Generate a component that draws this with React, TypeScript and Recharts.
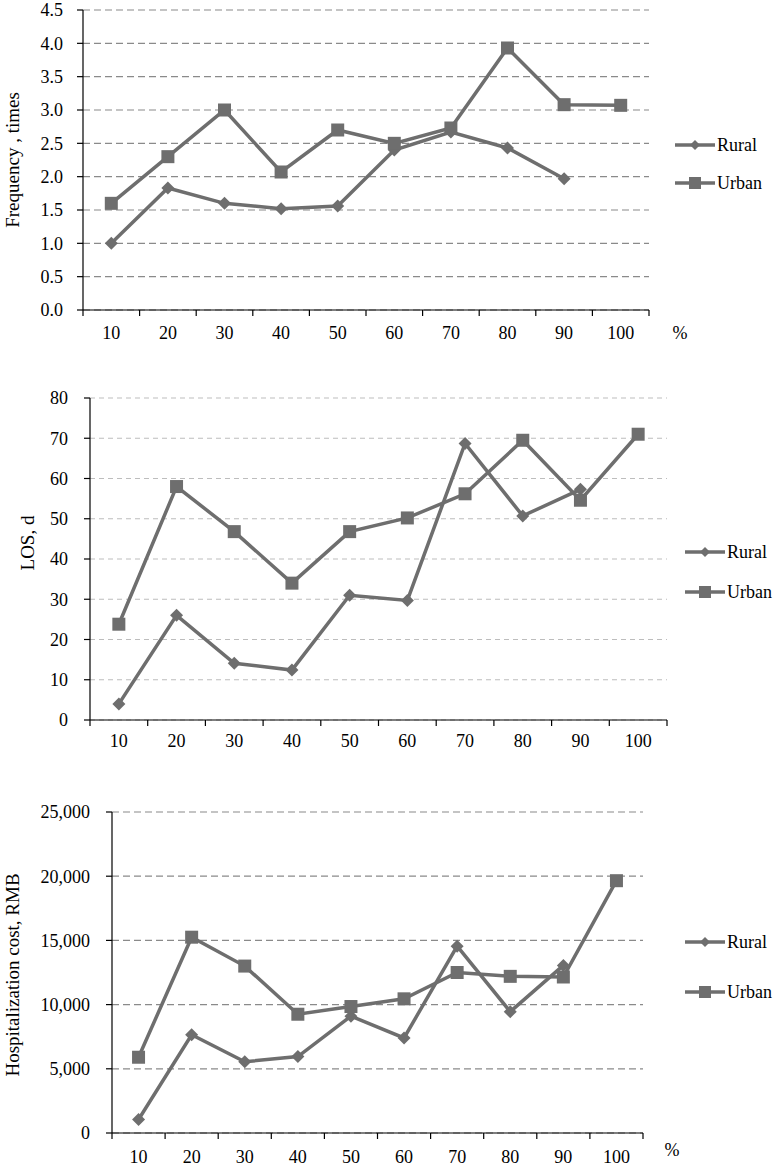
import { LineChart, Line, XAxis, YAxis, CartesianGrid, Legend } from 'recharts';

// income deciles on the x axis
const deciles = ['10', '20', '30', '40', '50', '60', '70', '80', '90', '100'];

// frequency of hospitalization, times
const freqRural = [1.0, 1.83, 1.6, 1.52, 1.56, 2.4, 2.67, 2.43, 1.97, null];
const freqUrban = [1.6, 2.3, 3.0, 2.07, 2.7, 2.5, 2.73, 3.93, 3.08, 3.07];
const freqTicks = [0, 0.5, 1, 1.5, 2, 2.5, 3, 3.5, 4, 4.5];

// length of stay, days
const losRural = [4, 26, 14.1, 12.4, 31, 29.7, 68.7, 50.7, 57.3, null];
const losUrban = [23.8, 58, 46.8, 34, 46.8, 50.2, 56.2, 69.5, 54.6, 71];
const losTicks = [0, 10, 20, 30, 40, 50, 60, 70, 80];

// hospitalization cost, RMB
const costRural = [1050, 7650, 5550, 5950, 9100, 7400, 14550, 9450, 13050, null];
const costUrban = [5900, 15250, 13000, 9250, 9850, 10450, 12500, 12200, 12150, 19650];
const costTicks = [0, 5000, 10000, 15000, 20000, 25000];

const seriesNames = ['Rural', 'Urban'];

const GRAY = '#6e6e6e';
const FONT = 'Liberation Serif, DejaVu Serif, serif';
const W = 782;

function buildRows(rural, urban) {
  return deciles.map((d, i) => ({ decile: d, Rural: rural[i], Urban: urban[i] }));
}

function makeDot(shape, r) {
  return (p) => {
    const { cx, cy, index } = p;
    if (cx == null || cy == null || Number.isNaN(cy)) return <g key={`e-${index}`} />;
    if (shape === 'diamond') {
      return (
        <path
          key={`d-${index}`}
          d={`M${cx},${cy - r}L${cx + r},${cy}L${cx},${cy + r}L${cx - r},${cy}Z`}
          fill={GRAY}
        />
      );
    }
    return <rect key={`s-${index}`} x={cx - r} y={cy - r} width={r * 2} height={r * 2} fill={GRAY} />;
  };
}

function LegendBox({ gap }) {
  return (
    <div style={{ fontFamily: FONT, fontSize: 18, color: '#000' }}>
      {seriesNames.map((s) => (
        <div key={s} style={{ display: 'flex', alignItems: 'center', height: gap }}>
          <svg width={42} height={16}>
            <line x1={1} y1={8} x2={41} y2={8} stroke={GRAY} strokeWidth={3.5} />
            {s === 'Rural' ? (
              <path d="M21,3L26,8L21,13L16,8Z" fill={GRAY} />
            ) : (
              <rect x={15} y={2} width={12} height={12} fill={GRAY} />
            )}
          </svg>
          <span style={{ marginLeft: 1 }}>{s}</span>
        </div>
      ))}
    </div>
  );
}

function Panel({ cfg }) {
  const plotW = W - cfg.left - cfg.right;
  const band = plotW / deciles.length;
  const data = buildRows(cfg.rural, cfg.urban);

  const renderTick = (p) => {
    const { x, y, payload, index } = p;
    const last = index === deciles.length - 1;
    return (
      <g key={`t-${index}`}>
        <line x1={x - band / 2} y1={y} x2={x - band / 2} y2={y + 6} stroke="#000" strokeWidth={1.2} />
        {last && <line x1={x + band / 2} y1={y} x2={x + band / 2} y2={y + 6} stroke="#000" strokeWidth={1.2} />}
        <text x={x} y={y + cfg.labelDy} textAnchor="middle" dominantBaseline="central" style={{ fontFamily: FONT }} fontSize={18} fill="#000">
          {payload.value}
        </text>
      </g>
    );
  };

  return (
    <div style={{ position: 'absolute', left: 0, top: cfg.top }}>
      <LineChart
        width={W}
        height={cfg.height}
        data={data}
        margin={{ top: cfg.plotTop, right: cfg.right, left: 0, bottom: 0 }}
        style={{ fontFamily: FONT }}
      >
        <CartesianGrid vertical={false} stroke={cfg.gridColor} strokeDasharray={cfg.dash} strokeWidth={1.2} />
        <XAxis
          dataKey="decile"
          height={cfg.xHeight}
          padding={{ left: band / 2, right: band / 2 }}
          axisLine={{ stroke: '#000', strokeWidth: 1.2 }}
          tickLine={false}
          tickSize={0}
          tickMargin={0}
          interval={0}
          tick={renderTick}
          label={{
            content: () =>
              cfg.percent ? (
                <text x={cfg.percent[0]} y={cfg.percent[1]} textAnchor="middle" dominantBaseline="central" style={{ fontFamily: FONT }} fontSize={18} fill="#000">
                  %
                </text>
              ) : null,
          }}
        />
        <YAxis
          width={cfg.left}
          domain={[cfg.ticks[0], cfg.ticks[cfg.ticks.length - 1]]}
          ticks={cfg.ticks}
          interval={0}
          axisLine={{ stroke: '#000', strokeWidth: 1.2 }}
          tickLine={{ stroke: '#000', strokeWidth: 1.2 }}
          tickSize={6}
          tickMargin={cfg.tickGap}
          tickFormatter={cfg.fmt}
          tick={{ style: { fontFamily: FONT }, fontSize: 18, fill: '#000' }}
          label={{
            content: () => (
              <text
                x={cfg.titleX}
                y={cfg.titleY}
                transform={`rotate(-90, ${cfg.titleX}, ${cfg.titleY})`}
                textAnchor="middle"
                dominantBaseline="central"
                style={{ fontFamily: FONT }}
                fontSize={19}
                fill="#000"
              >
                {cfg.title}
              </text>
            ),
          }}
        />
        <Legend
          layout="vertical"
          align="center"
          verticalAlign="middle"
          wrapperStyle={{ left: cfg.legend[0], top: cfg.legend[1], width: 'auto' }}
          content={() => <LegendBox gap={cfg.legend[2]} />}
        />
        <Line
          dataKey="Rural"
          type="linear"
          stroke={GRAY}
          strokeWidth={3.5}
          dot={makeDot('diamond', 6.5)}
          activeDot={false}
          isAnimationActive={false}
        />
        <Line
          dataKey="Urban"
          type="linear"
          stroke={GRAY}
          strokeWidth={3.5}
          dot={makeDot('square', 6.5)}
          activeDot={false}
          isAnimationActive={false}
        />
      </LineChart>
    </div>
  );
}

const panels = [
  {
    top: 0, height: 350, plotTop: 10, xHeight: 40, left: 83, right: 133,
    rural: freqRural, urban: freqUrban, ticks: freqTicks, fmt: (v) => v.toFixed(1),
    title: 'Frequency , times', titleX: 12, titleY: 160,
    gridColor: '#8a8a8a', dash: '7 4', tickGap: 14, labelDy: 23,
    percent: [680, 333], legend: [674, 126, 38],
  },
  {
    top: 360, height: 400, plotTop: 38, xHeight: 40, left: 90, right: 115,
    rural: losRural, urban: losUrban, ticks: losTicks, fmt: (v) => String(v),
    title: 'LOS, d', titleX: 27, titleY: 183,
    gridColor: '#bdbdbd', dash: '5 4', tickGap: 16, labelDy: 21,
    percent: null, legend: [684, 172, 40],
  },
  {
    top: 770, height: 399, plotTop: 42, xHeight: 36, left: 112, right: 139,
    rural: costRural, urban: costUrban, ticks: costTicks, fmt: (v) => v.toLocaleString('en-US'),
    title: 'Hospitalization cost, RMB', titleX: 12, titleY: 205,
    gridColor: '#8a8a8a', dash: '7 4', tickGap: 16, labelDy: 24,
    percent: [672, 380], legend: [684, 147, 50],
  },
];

export default function App() {
  return (
    <div style={{ position: 'absolute', left: 0, top: 0, width: W, height: 1169, background: '#fff', fontFamily: FONT }}>
      {panels.map((cfg, i) => (
        <Panel key={i} cfg={cfg} />
      ))}
    </div>
  );
}
